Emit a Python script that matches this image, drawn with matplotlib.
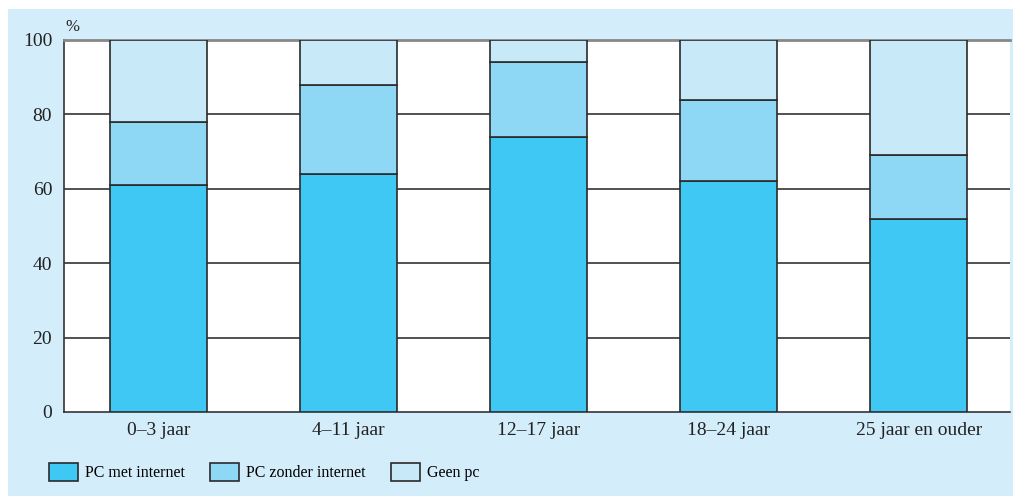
import matplotlib
matplotlib.use("Agg")
import matplotlib.pyplot as plt
from matplotlib.patches import Rectangle
import numpy as np

categories = ["0\u20133 jaar", "4\u201311 jaar", "12\u201317 jaar", "18\u201324 jaar", "25 jaar en ouder"]
pc_met_internet = [61, 64, 74, 62, 52]
pc_zonder_internet = [17, 24, 20, 22, 17]
geen_pc = [22, 12, 6, 16, 31]
series_labels = ["PC met internet", "PC zonder internet", "Geen pc"]
yticks = [0, 20, 40, 60, 80, 100]

colors = ["#40c8f4", "#8ed8f6", "#c7e9f8"]
panel = "#d4edfa"

plt.rcParams["font.family"] = ["Liberation Serif", "DejaVu Serif"]

W, H = 1013, 497
fig = plt.figure(figsize=(W / 100, H / 100), dpi=100, facecolor="white")
fig.patches.append(Rectangle((8 / W, 1 - 496 / H), 1 - 8 / W, (496 - 9) / H,
                             transform=fig.transFigure, facecolor=panel,
                             edgecolor="none", zorder=-10))

ax = fig.add_axes([64 / W, 1 - 412 / H, (1010 - 64) / W, (412 - 40) / H])
ax.set_facecolor("white")

x = np.arange(len(categories))
bw = 0.51
bottom = np.zeros(len(categories))
for vals, c, lab in zip([pc_met_internet, pc_zonder_internet, geen_pc], colors, series_labels):
    ax.bar(x, vals, bw, bottom=bottom, color=c, edgecolor="#2a2a2a",
           linewidth=1.2, label=lab, zorder=3)
    bottom += np.array(vals)

ax.set_xlim(-0.497, 4.48)
ax.set_ylim(0, 100)
ax.set_yticks(yticks)
ax.set_xticks(x)
ax.set_xticklabels(categories)
ax.tick_params(axis="both", length=0, labelsize=14, colors="#222222")
ax.tick_params(axis="y", pad=8.5)
ax.tick_params(axis="x", pad=7)
for y in yticks[1:-1]:
    ax.axhline(y, color="#222222", linewidth=1.1, zorder=1)

ax.spines["right"].set_visible(False)
ax.spines["top"].set_color("#888888")
ax.spines["top"].set_linewidth(2)
ax.spines["left"].set_color("#333333")
ax.spines["bottom"].set_color("#333333")
ax.spines["left"].set_linewidth(1.2)
ax.spines["bottom"].set_linewidth(1.2)

fig.text(65 / W, 1 - 27 / H, "%", fontsize=12, va="center", ha="left", color="#222222")

handles, labels = ax.get_legend_handles_labels()
fig.legend(handles, labels, ncol=3, loc="center left",
           bbox_to_anchor=(49 / W, 1 - 472 / H), frameon=False,
           borderpad=0, borderaxespad=0, fontsize=11.5,
           handlelength=1.8, handleheight=1.45, handletextpad=0.45,
           columnspacing=1.6)

fig.savefig("out.png", dpi=100, facecolor="white")
